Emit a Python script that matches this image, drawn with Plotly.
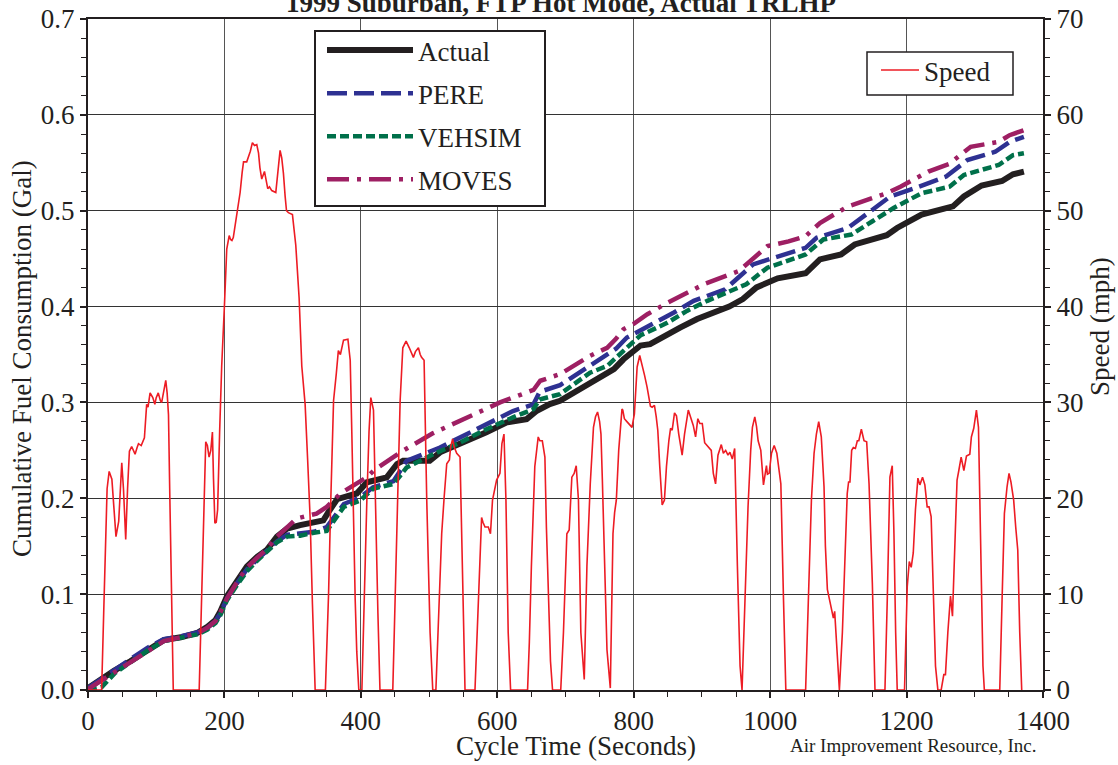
import plotly.graph_objects as go

# ---------------- data ----------------
speed_t = [0, 20, 23, 26, 28, 31, 35, 38, 41, 45, 47, 49.5, 52, 55.3, 58, 60.7, 64, 69, 72, 74, 78, 82.7, 86, 88, 91, 95,
           98, 100, 103, 106, 108, 111, 114, 116, 118, 120, 122, 125, 163, 166, 169, 172.6, 175, 177.5, 180, 182.4, 184,
           186, 188, 190, 193, 196, 200, 203.4, 207, 209, 211, 213, 214.7, 217, 219.5, 223, 226, 228, 232.7, 235, 238,
           241, 244, 247.4, 250, 252, 254.7, 258.7, 261, 263.5, 266, 269.4, 275.3, 278, 281.6, 284, 286.5, 289, 291,
           293.8, 299.7, 304.6, 309.5, 313.4, 318.3, 322, 325.6, 329, 333, 348, 350, 352.7, 356, 360, 364, 367, 370,
           374.6, 381, 384.4, 386.8, 389, 391.7, 394, 397, 401.5, 404, 406, 408.8, 412, 414.6, 418.5, 420, 422.4, 425,
           428, 446.8, 449, 452.7, 455, 457.6, 461.5, 466.3, 471, 474, 477, 480, 484.4, 487, 489, 492.7, 494, 496.6,
           501.5, 505.4, 510, 513.7, 518.5, 522, 525.9, 529.8, 531.7, 534.6, 536.6, 540.5, 545.4, 547.8, 550, 552.7,
           567.3, 570, 572, 577, 579, 582, 586.8, 590, 593, 599, 603.9, 606.8, 609.8, 612.7, 616, 619.5, 644.4, 647, 650,
           652, 655, 660, 662.4, 666, 669.8, 672, 675, 678, 681, 693, 697, 702, 705.4, 709.3, 712.7, 715.7, 719, 722.5,
           727.5, 731.4, 736.3, 741, 744, 747, 750, 752, 754, 756, 760.8, 765.7, 769.6, 772, 774.5, 778, 782.8, 784,
           786.3, 790, 792.6, 797.5, 801, 805, 808.8, 812.3, 816, 819.6, 824.5, 827, 830.4, 833, 835.3, 838.2, 841.7,
           845, 848, 851.5, 854, 856.4, 859.8, 862.7, 866, 871, 874.5, 880, 883.3, 887.3, 890.7, 894, 897, 900.5, 904,
           907.8, 911, 913.7, 916.7, 920, 923.5, 928.4, 931.4, 934.8, 938.2, 941, 944.6, 948, 952, 955.9, 958.8, 962.7,
           965, 967.6, 971.5, 974, 977.5, 980, 982.4, 986.3, 990.2, 993, 994.6, 996, 998.5, 1002, 1005.9, 1009.8, 1013,
           1015.7, 1019.6, 1023, 1052, 1054, 1057, 1060.5, 1064.4, 1067.8, 1071.2, 1075, 1079, 1081, 1083.9, 1088.8,
           1092.7, 1094.6, 1097.6, 1101.5, 1105.9, 1109.3, 1113, 1115, 1117, 1119.5, 1122, 1125, 1127.8, 1130, 1133.7,
           1137.6, 1141.5, 1145, 1149.8, 1153.7, 1168.3, 1171.7, 1175.6, 1179, 1181.5, 1184, 1186.3, 1197, 1201, 1204,
           1206.8, 1209.8, 1213, 1216.6, 1219.5, 1223.4, 1226.8, 1230.2, 1233, 1236, 1239, 1242.4, 1245.9, 1250.7,
           1254.6, 1257, 1260.5, 1264.4, 1267.3, 1270, 1274, 1276.6, 1280, 1284, 1287.8, 1292.7, 1295, 1298.5, 1302.4,
           1305.4, 1308.3, 1312, 1314, 1336.6, 1340, 1343.4, 1347.3, 1350.2, 1353, 1357, 1360, 1363, 1365.9, 1368.8]
speed_v = [0, 0, 8, 17, 21, 22.8, 22, 19, 16, 17.6, 21, 23.7, 21, 15.7, 21, 24.9, 25.4, 24.6, 25.3, 25.7, 25.5, 26.3,
           29.8, 29.5, 31, 30.5, 29.8, 30.5, 31, 30.2, 30, 31, 32.3, 31, 28.7, 20, 10, 0, 0, 8, 18, 25.9, 25.5, 24.3, 25,
           26.9, 22, 17.4, 17.5, 18.8, 27, 33.8, 40.1, 46, 47.4, 47, 46.9, 47.2, 48, 49, 50, 51.9, 54, 55.1, 55.1, 55.5,
           56.2, 57.1, 56.8, 56.9, 56, 54.5, 53.3, 54.1, 53, 52.3, 52.5, 52.1, 51.9, 54, 56.3, 55.5, 53.9, 51.5, 50, 49.8,
           49.6, 46.4, 40.9, 33.8, 29.8, 24, 18, 9, 0, 0, 4, 10.1, 20, 30.2, 33, 35.4, 35, 36.5, 36.6, 34.4, 26.7, 18,
           9.4, 4, 0, 0, 8, 14, 19.8, 27, 30.5, 29.2, 24, 16.3, 8, 0, 0, 6, 16.3, 24, 30.2, 35.7, 36.4, 35.7, 35.2, 34.7,
           35.3, 35.7, 35, 34.7, 34.4, 28, 19.8, 6, 0, 0, 7.3, 16.3, 20, 23.6, 24, 25.4, 26.2, 25.4, 24.7, 24.3, 16.3, 8,
           0, 0, 5, 10.1, 18, 17.5, 17, 17, 16.3, 19.8, 21.9, 22.6, 25.7, 26.7, 19.8, 6, 0, 0, 5, 12.9, 18, 23.3, 26.4,
           26, 26, 24.3, 17, 9, 3, 0, 0, 6, 16.3, 16.7, 22.2, 22.6, 23.4, 19.8, 6, 1.1, 12.9, 21.5, 27.4, 28.5, 29, 28,
           26.7, 22, 16.3, 4.2, 0.2, 16.3, 18.5, 19.8, 25, 29.3, 29.2, 28.3, 28, 27.8, 27.4, 28.8, 33.7, 34.9, 34, 32.8,
           31.6, 29.6, 29.5, 29.7, 28.5, 27.1, 23.3, 19.3, 19.8, 23.3, 26, 27.3, 27.1, 28.9, 28.6, 26.7, 24.5, 26.7,
           29.2, 28.5, 27.6, 26.4, 28.3, 27.8, 27.8, 25.8, 25.5, 25.2, 25, 22.6, 21.5, 24.5, 25.6, 24.7, 25, 24.5, 24.8,
           24.1, 25.2, 12.9, 2.5, 0, 9.4, 15, 19.1, 25, 27.4, 28.5, 27.5, 26, 25, 21.4, 22.5, 23.4, 22.5, 22.6, 24.7,
           25.5, 24.7, 22.6, 21.5, 9.4, 0, 0, 5, 11.2, 19.8, 24.7, 26.7, 28, 26.4, 21.2, 15, 10.5, 8.7, 7.5, 8.2, 4.2, 0,
           6, 13.9, 20.5, 21.7, 21.7, 25, 25.3, 25.2, 26, 26, 27.2, 26, 25.9, 21.5, 11.2, 0, 0, 9.4, 22.2, 23.4, 16.3, 6,
           0, 0, 10.8, 13.4, 12.8, 14.3, 18.8, 22.1, 21.4, 22.2, 21.4, 19.1, 19.1, 18.1, 9.4, 2.5, 0, 0, 1.6, 1.6, 6,
           9.8, 7.7, 12.9, 21.9, 22.9, 24.3, 22.9, 24.4, 24.6, 26.4, 27.3, 29.2, 27.4, 16.3, 2.5, 0, 0, 9.4, 18.4, 21.2,
           22.6, 21.7, 19.8, 17, 14.6, 6, 0]

actual_t = [0, 18.5, 38, 62, 87, 111, 136, 160, 175, 187, 194, 204, 218, 233, 248, 262, 277, 292, 311, 331, 345, 352,
            365, 394, 409, 438, 453, 462, 501, 516, 540, 565, 584, 614, 643, 658, 677, 692, 712, 731, 751, 771, 785,
            800, 810, 824, 844, 868, 893, 918, 940, 960, 980, 1011, 1052, 1073, 1104, 1124, 1171, 1186, 1222, 1268,
            1284, 1310, 1340, 1356, 1372]
actual_f = [0.002, 0.011, 0.020, 0.030, 0.042, 0.052, 0.055, 0.0595, 0.066, 0.073, 0.082, 0.098, 0.113, 0.129, 0.139,
            0.146, 0.160, 0.1685, 0.172, 0.175, 0.177, 0.185, 0.199, 0.205, 0.2167, 0.2219, 0.2358, 0.2392, 0.2392,
            0.2479, 0.2549, 0.2618, 0.2688, 0.2792, 0.2826, 0.2913, 0.2983, 0.3017, 0.3104, 0.319, 0.3278, 0.3347,
            0.345, 0.3538, 0.3594, 0.3608, 0.3694, 0.378, 0.387, 0.394, 0.400, 0.4078, 0.420, 0.4295, 0.4347, 0.4492,
            0.4544, 0.4648, 0.4744, 0.482, 0.4959, 0.5045, 0.5149, 0.5263, 0.531, 0.538, 0.5408]

pere_t = [0, 20, 40, 62, 87, 111, 136, 160, 175, 187, 194, 204, 218, 233, 248, 262, 277, 292, 311, 331, 350, 375, 399,
          418, 448, 467, 516, 545, 584, 623, 653, 662, 692, 736, 761, 774, 790, 810, 825, 846, 859, 888, 934, 975, 1006,
          1052, 1068, 1114, 1150, 1176, 1212, 1258, 1289, 1330, 1351, 1372]
pere_f = [0.002, 0.012, 0.022, 0.032, 0.044, 0.053, 0.056, 0.060, 0.065, 0.072, 0.080, 0.096, 0.111, 0.126, 0.136,
          0.145, 0.155, 0.162, 0.163, 0.165, 0.170, 0.194, 0.201, 0.2115, 0.218, 0.239, 0.253, 0.2635, 0.2774, 0.291,
          0.298, 0.311, 0.318, 0.338, 0.350, 0.356, 0.3677, 0.375, 0.380, 0.3888, 0.3938, 0.406, 0.418, 0.444, 0.451,
          0.4613, 0.4717, 0.482, 0.501, 0.5149, 0.5235, 0.5356, 0.5528, 0.5615, 0.5718, 0.577]

vehsim_t = [0, 20, 40, 62, 87, 111, 136, 160, 175, 187, 194, 204, 218, 233, 248, 262, 277, 292, 311, 331, 350, 375,
            399, 418, 448, 467, 506, 545, 584, 623, 653, 662, 692, 736, 761, 785, 810, 849, 878, 908, 965, 996, 1052,
            1078, 1119, 1150, 1181, 1222, 1263, 1284, 1335, 1356, 1372]
vehsim_f = [0.0, 0.003, 0.018, 0.029, 0.041, 0.051, 0.054, 0.058, 0.063, 0.070, 0.078, 0.094, 0.109, 0.124, 0.135,
            0.144, 0.154, 0.160, 0.161, 0.164, 0.166, 0.191, 0.1976, 0.210, 0.215, 0.232, 0.246, 0.258, 0.272, 0.2844,
            0.293, 0.303, 0.3087, 0.331, 0.338, 0.3538, 0.370, 0.383, 0.3955, 0.406, 0.4233, 0.4406, 0.4544, 0.470,
            0.4751, 0.489, 0.5028, 0.5183, 0.525, 0.5373, 0.5477, 0.558, 0.560]

moves_t = [0, 20, 40, 62, 87, 111, 136, 160, 175, 187, 194, 204, 218, 233, 248, 262, 277, 292, 306, 335, 350, 370, 409,
           419, 458, 506, 565, 604, 653, 663, 692, 736, 761, 774, 785, 800, 820, 846, 903, 954, 996, 1027, 1052, 1073,
           1114, 1171, 1191, 1232, 1263, 1294, 1335, 1351, 1372]
moves_f = [0.001, 0.010, 0.019, 0.029, 0.041, 0.051, 0.055, 0.059, 0.065, 0.072, 0.081, 0.096, 0.112, 0.128, 0.138,
           0.147, 0.160, 0.170, 0.179, 0.184, 0.191, 0.205, 0.222, 0.229, 0.248, 0.268, 0.287, 0.300, 0.313, 0.3226,
           0.3295, 0.3486, 0.357, 0.3663, 0.3764, 0.3819, 0.392, 0.4026, 0.4233, 0.4371, 0.463, 0.468, 0.4734, 0.4872,
           0.5045, 0.5183, 0.525, 0.5408, 0.549, 0.5667, 0.5718, 0.5788, 0.584]

x_ticks = [0, 200, 400, 600, 800, 1000, 1200, 1400]
fuel_ticks = [0.0, 0.1, 0.2, 0.3, 0.4, 0.5, 0.6, 0.7]
speed_ticks = [0, 10, 20, 30, 40, 50, 60, 70]

# ---------------- figure ----------------
FONT = "Liberation Serif, Times New Roman, serif"
INK = "#231f20"

W, H = 1118, 765
# plot area in pixels: x 88..1043, y 19..690
PL, PR, PT, PB = 88, 1043, 19, 690


def px(x):
    return (x - PL) / (PR - PL)


def py(y):
    return (PB - y) / (PB - PT)


fig = go.Figure()

fig.add_trace(go.Scatter(x=actual_t, y=actual_f, name="Actual", mode="lines", legend="legend",
                         legendgroup="a", line=dict(color=INK, width=6)))
fig.add_trace(go.Scatter(x=pere_t, y=pere_f, name="PERE", mode="lines", legend="legend",
                         legendgroup="b", line=dict(color="#2e3192", width=4.5, dash="20px,7px")))
fig.add_trace(go.Scatter(x=vehsim_t, y=vehsim_f, name="VEHSIM", mode="lines", legend="legend",
                         legendgroup="c", line=dict(color="#00704a", width=4.5, dash="9px,4px")))
fig.add_trace(go.Scatter(x=moves_t, y=moves_f, name="MOVES", mode="lines", legend="legend",
                         legendgroup="d", line=dict(color="#9e1f63", width=4.5, dash="22px,8px,4px,8px")))
fig.add_trace(go.Scatter(x=speed_t, y=speed_v, name="Speed", mode="lines", yaxis="y2", legend="legend2",
                         line=dict(color="#ed1c24", width=1.6)))

axis_common = dict(
    showline=True, linecolor=INK, linewidth=2,
    ticks="outside", ticklen=6, tickwidth=1.5, tickcolor=INK,
    tickfont=dict(family=FONT, size=27, color=INK),
    zeroline=False, automargin=False, ticklabeloverflow="allow",
)

fig.update_layout(
    width=W, height=H,
    margin=dict(l=PL, r=W - PR, t=PT, b=H - PB, autoexpand=False),
    paper_bgcolor="white", plot_bgcolor="white",
    font=dict(family=FONT, size=27, color=INK),
    showlegend=True,
    xaxis=dict(range=[0, 1400], tickvals=x_ticks, mirror=True,
               showgrid=True, gridcolor="#555555", gridwidth=1,
               minor=dict(dtick=50, ticks="outside", ticklen=5, tickcolor=INK, tickwidth=1, showgrid=False),
               **axis_common),
    yaxis=dict(range=[0, 0.7], tickvals=fuel_ticks, tickformat=".1f",
               showgrid=True, gridcolor="#333333", gridwidth=1,
               minor=dict(dtick=0.02, ticks="outside", ticklen=5, tickcolor=INK, tickwidth=1, showgrid=False),
               **axis_common),
    yaxis2=dict(range=[0, 70], tickvals=speed_ticks, overlaying="y", side="right", showgrid=False,
                minor=dict(dtick=2, ticks="outside", ticklen=5, tickcolor=INK, tickwidth=1, showgrid=False),
                **axis_common),
    legend=dict(x=px(322), y=py(26), xanchor="left", yanchor="top",
                bgcolor="rgba(0,0,0,0)", borderwidth=0,
                font=dict(family=FONT, size=27, color=INK),
                itemwidth=86, tracegroupgap=5, traceorder="grouped"),
    legend2=dict(x=px(876), y=py(46), xanchor="left", yanchor="top",
                 bgcolor="rgba(0,0,0,0)", borderwidth=0, itemwidth=38,
                 font=dict(family=FONT, size=27, color=INK)),
    shapes=[
        dict(type="rect", xref="paper", yref="paper", x0=px(315), x1=px(545), y0=py(206), y1=py(31),
             line=dict(color=INK, width=2), fillcolor="white", layer="above"),
        dict(type="rect", xref="paper", yref="paper", x0=px(867), x1=px(1013), y0=py(95), y1=py(52),
             line=dict(color=INK, width=1.5), fillcolor="white", layer="above"),
    ],
    annotations=[
        dict(text="<b>1999 Suburban, FTP Hot Mode, Actual TRLHP</b>", xref="paper", yref="paper",
             x=px(561), y=py(3), xanchor="center", yanchor="middle", showarrow=False,
             font=dict(family=FONT, size=27, color=INK)),
        dict(text="Cycle Time (Seconds)", xref="paper", yref="paper", x=px(576), y=py(746),
             xanchor="center", yanchor="middle", showarrow=False, font=dict(family=FONT, size=27, color=INK)),
        dict(text="Cumulative Fuel Consumption (Gal)", xref="paper", yref="paper", x=px(22), y=py(359),
             xanchor="center", yanchor="middle", textangle=-90, showarrow=False,
             font=dict(family=FONT, size=27, color=INK)),
        dict(text="Speed (mph)", xref="paper", yref="paper", x=px(1100), y=py(327),
             xanchor="center", yanchor="middle", textangle=-90, showarrow=False,
             font=dict(family=FONT, size=27, color=INK)),
        dict(text="Air Improvement Resource, Inc.", xref="paper", yref="paper", x=px(1038), y=py(745),
             xanchor="right", yanchor="middle", showarrow=False, font=dict(family=FONT, size=19, color=INK)),
    ],
)

# remove the default page margin so the figure fills the window exactly
fig.write_html("out.html", config={"displayModeBar": False},
               post_script="document.body.style.margin='0';document.body.style.overflow='hidden';")
